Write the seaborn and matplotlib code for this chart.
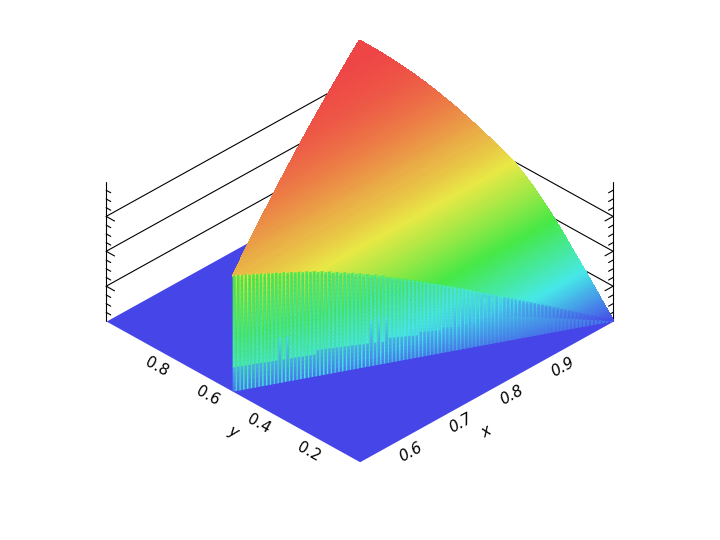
import matplotlib
matplotlib.use('Agg')
import matplotlib.pyplot as plt
import numpy as np
import seaborn as sns
from mpl_toolkits.mplot3d import proj3d
from mpl_toolkits.mplot3d.art3d import Poly3DCollection

# surface height read off the right hand edge
# y = 0.000, 0.005, ... 0.295 where it climbs fast, then 0.30, 0.31, ... 1.00
y_values = [i / 200 for i in range(60)] + [i / 100 for i in range(30, 101)]
z_values = [
    0.000, 0.011, 0.022, 0.033, 0.044, 0.055, 0.066, 0.077, 0.088, 0.099,
    0.110, 0.121, 0.132, 0.143, 0.154, 0.165, 0.176, 0.187, 0.198, 0.209,
    0.220, 0.230, 0.241, 0.251, 0.262, 0.272, 0.283, 0.293, 0.304, 0.314,
    0.325, 0.335, 0.346, 0.356, 0.367, 0.377, 0.388, 0.398, 0.409, 0.419,
    0.430, 0.440, 0.450, 0.460, 0.470, 0.480, 0.490, 0.499, 0.509, 0.518,
    0.528, 0.537, 0.546, 0.555, 0.564, 0.572, 0.581, 0.589, 0.598, 0.606,
    0.615, 0.631, 0.647, 0.662, 0.676, 0.690, 0.703, 0.716, 0.729, 0.741,
    0.752, 0.760, 0.768, 0.776, 0.784, 0.791, 0.798, 0.805, 0.812, 0.819,
    0.826, 0.833, 0.840, 0.847, 0.854, 0.861, 0.867, 0.873, 0.879, 0.885,
    0.891, 0.897, 0.903, 0.908, 0.913, 0.918, 0.923, 0.928, 0.933, 0.938,
    0.942, 0.946, 0.950, 0.954, 0.958, 0.962, 0.965, 0.968, 0.971, 0.974,
    0.977, 0.979, 0.981, 0.983, 0.985, 0.987, 0.989, 0.991, 0.993, 0.994,
    0.995, 0.996, 0.997, 0.998, 0.999, 0.999, 1.000, 1.000, 1.000, 1.000,
    1.000,
]

# parts of the front wall where the comb reaches higher (y from, y to)
tall_comb_bands = [(0.418, 0.435), (0.286, 0.322), (0.142, 0.208)]

x_ticks = [0.6, 0.7, 0.8, 0.9]
y_ticks = [0.2, 0.4, 0.6, 0.8]
z_major = [0.25, 0.5, 0.75]
z_minor = [0.0625, 0.125, 0.1875, 0.3125, 0.375, 0.4375,
           0.5625, 0.625, 0.6875, 0.8125, 0.875, 0.9375]

sns.set_style('white')
rainbow = sns.blend_palette(['#4646e8', '#46e8e8', '#46e846', '#e8e846', '#ee4646'],
                            n_colors=256, as_cmap=True)

fig = plt.figure(figsize=(7.2, 5.4), dpi=100)
# the 3d axes clip to a square, so make it bigger than the figure
ax = fig.add_axes([-0.1167, -0.287, 1.2, 1.6], projection='3d', computed_zorder=False)
ax.set_proj_type('ortho')
ax.view_init(elev=33.7, azim=-135)
ax.set_box_aspect((1, 1, 0.468), zoom=0.6)
ax.set_xlim(0.5, 1, view_margin=0)
ax.set_ylim(0, 1, view_margin=0)
ax.set_zlim(0, 1, view_margin=0)
ax.set_axis_off()
ax.patch.set_alpha(0)

# back wall grid and z axes
line = dict(color='black', lw=0.8, zorder=1)
ax.plot([0.5, 0.5], [1, 1], [0, 1], **line)
ax.plot([1, 1], [0, 0], [0, 1], **line)
for z in z_major:
    ax.plot([0.5, 1, 1], [1, 1, 0], [z, z, z], **line)
    ax.plot([0.5, 0.5], [1, 0.967], [z, z], **line)
    ax.plot([1, 0.984], [0, 0], [z, z], **line)
for z in z_minor:
    ax.plot([0.5, 0.5], [1, 0.982], [z, z], **line)
    ax.plot([1, 0.991], [0, 0], [z, z], **line)

# floor
floor_x, floor_y = np.meshgrid([0.5, 1], [0, 1])
ax.plot_surface(floor_x, floor_y, np.zeros((2, 2)), color=rainbow(0.0), shade=False,
                linewidth=0, antialiased=False, zorder=2)

# top surface, one strip per row of the table
ys = np.array(y_values)
zs = np.array(z_values)
left = np.maximum(ys, 1 - ys)
X = np.column_stack([left, np.ones_like(ys)])
Y = np.column_stack([ys, ys])
Z = np.column_stack([zs, zs])
strip_colors = rainbow((zs[:-1] + zs[1:]) / 2)[:, None, :]
ax.plot_surface(X, Y, Z, facecolors=strip_colors, rstride=1, cstride=1, shade=False,
                linewidth=1.0, antialiased=False, zorder=3)

# front wall along x + y = 1, a comb of alternating strips, one tooth per 0.005 of y
polys = []
colors = []
tooth = 0
for row in range(len(y_values) - 1):
    y_lo, y_hi = y_values[row], y_values[row + 1]
    top = z_values[row + 1]
    if y_lo >= 0.5:
        break
    n_teeth = round((y_hi - y_lo) / 0.005)
    width = (y_hi - y_lo) / n_teeth
    for n in range(n_teeth):
        tooth += 1
        start = y_lo + n * width
        comb = min(0.17, top * 0.6)
        for lo, hi in tall_comb_bands:
            if lo <= start <= hi and tooth % 2 == 0:
                comb = 0.33
        # the bright strip is the narrower one
        edges = [start, start + 0.35 * width, start + width]
        levels = np.linspace(0, top, 25)
        for k in range(2):
            y0, y1 = edges[k], edges[k + 1]
            for a, b in zip(levels[:-1], levels[1:]):
                mid = (a + b) / 2
                t = mid / top
                if k == 0:
                    value = top * (0.32 + 0.6 * t)
                elif mid < comb:
                    value = 0.08 + 0.5 * mid
                else:
                    value = top * (0.33 + 0.3 * t)
                polys.append([(1 - y0, y0, a), (1 - y1, y1, a), (1 - y1, y1, b), (1 - y0, y0, b)])
                colors.append(rainbow(value))
wall = Poly3DCollection(polys, facecolors=colors, edgecolors=colors, linewidths=0.3,
                        antialiased=True, zorder=4)
ax.add_collection3d(wall, autolim=False)


def label(x, y, z, text, angle, italic=False):
    # place the text where the 3d point lands on the axes
    px, py, _ = proj3d.proj_transform(x, y, z, ax.get_proj())
    ax.text2D(px, py, text, transform=ax.transData, fontsize=11, rotation=angle,
              rotation_mode='anchor', style='italic' if italic else 'normal',
              ha='center', va='center', color='black')


# tick labels sit straight below the floor edge
for x in x_ticks:
    label(x, 0, -0.13, f'{x:.1f}', 29, italic=True)
for y in y_ticks:
    label(0.5, y, -0.13, f'{y:.1f}', -29)
label(0.75, 0, -0.29, 'x', 29, italic=True)
label(0.5, 0.5, -0.29, 'y', -29, italic=True)

fig.savefig('out.png', dpi=100)
plt.close(fig)
